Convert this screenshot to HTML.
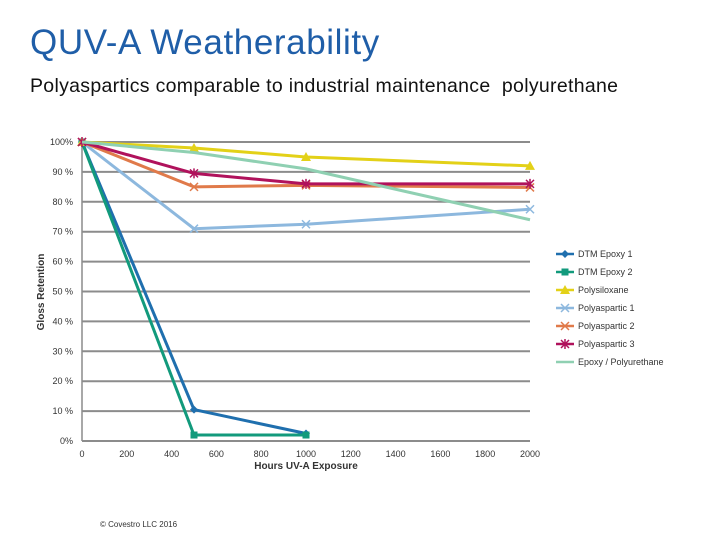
<!DOCTYPE html>
<html><head><meta charset="utf-8"><style>
body{margin:0;background:#fff;width:720px;height:540px;overflow:hidden;font-family:"Liberation Sans",sans-serif}
.t{position:absolute;white-space:nowrap}
</style></head><body>
<div class="t" style="left:30px;top:23px;font-size:35px;letter-spacing:0.6px;color:#1f5ea8">QUV-A Weatherability</div>
<div class="t" style="left:30px;top:75px;font-size:19.5px;letter-spacing:0.3px;color:#111">Polyaspartics comparable to industrial maintenance&nbsp; polyurethane</div>
<div class="t" style="left:100px;top:520px;font-size:8px;color:#333">© Covestro LLC 2016</div>
<svg id="c" width="720" height="540" style="position:absolute;left:0;top:0"></svg>
<script>
const xs=[0,500,1000,2000];
const names=["DTM Epoxy 1","DTM Epoxy 2","Polysiloxane","Polyaspartic 1","Polyaspartic 2","Polyaspartic 3","Epoxy / Polyurethane"];
const epoxy1=[100,10.5,2.5];
const epoxy2=[100,2,2];
const polysiloxane=[100,98,95,92];
const polyaspartic1=[100,71,72.5,77.5];
const polyaspartic2=[100,85,85.5,84.8];
const polyaspartic3=[100,89.5,86,86];
const epoxyPU=[100,96.5,91,74];
const yTicks=[0,10,20,30,40,50,60,70,80,90,100];
const xTicks=[0,200,400,600,800,1000,1200,1400,1600,1800,2000];
const series=[epoxy1,epoxy2,polysiloxane,polyaspartic1,polyaspartic2,polyaspartic3,epoxyPU];
const colors=["#1f6fae","#129a7c","#e3d118","#8db8de","#e07a4a","#b0125c","#8fd0b2"];
const marks=["dia","sq","tri","x","x","star","none"];
const widths=[3,3,3,3,3,3,3];
const X=v=>82+v*(448/2000), Y=v=>441-v*2.99;
const svg=document.getElementById('c'),NS="http://www.w3.org/2000/svg";
function mk(t,a,p){const e=document.createElementNS(NS,t);for(const k in a)e.setAttribute(k,a[k]);(p||svg).appendChild(e);return e;}
yTicks.forEach(v=>{
 const l=mk('line',{x1:82,x2:530,y1:Y(v),y2:Y(v),stroke:'#8c8c8c','stroke-width':2});
 
 
 const t=mk('text',{x:73,y:Y(v)+3,'text-anchor':'end','font-size':9,fill:'#333'});t.textContent=v+((v==100||v==0)?'%':' %');
 
 
});
const ax=mk('line',{x1:82,x2:82,y1:142,y2:441,stroke:'#8c8c8c','stroke-width':1.5});


xTicks.forEach(v=>{const t=mk('text',{x:X(v),y:457,'text-anchor':'middle','font-size':9,fill:'#333'});t.textContent=v;
 
 });
const xt=mk('text',{x:306,y:469,'text-anchor':'middle','font-size':10,'font-weight':'bold',fill:'#333'});xt.textContent="Hours UV-A Exposure";


const yt=mk('text',{x:44,y:292,'text-anchor':'middle','font-size':10,'font-weight':'bold',fill:'#333',transform:'rotate(-90 44 292)'});yt.textContent="Gloss Retention";


function marker(m,x,y,c,g){
 if(m=='dia')mk('path',{d:`M${x} ${y-4}L${x+4} ${y}L${x} ${y+4}L${x-4} ${y}Z`,fill:c},g);
 else if(m=='sq')mk('rect',{x:x-3.5,y:y-3.5,width:7,height:7,fill:c},g);
 else if(m=='tri')mk('path',{d:`M${x} ${y-5}L${x+5} ${y+4}L${x-5} ${y+4}Z`,fill:c},g);
 else if(m=='x'||m=='star'){mk('path',{d:`M${x-4} ${y-4}L${x+4} ${y+4}M${x+4} ${y-4}L${x-4} ${y+4}`+(m=='star'?`M${x} ${y-5}V${y+5}`:''),stroke:c,'stroke-width':1.5},g);}
}
series.forEach((s,i)=>{
 const g=mk('g',{});
 
 
 mk('polyline',{points:s.map((v,j)=>X(xs[j])+','+Y(v)).join(' '),fill:'none',stroke:colors[i],'stroke-width':widths[i]},g);
 s.forEach((v,j)=>marker(marks[i],X(xs[j]),Y(v),colors[i],g));
 const ly=254+i*18;
 const lg=mk('g',{});
 
 
 mk('line',{x1:556,x2:574,y1:ly,y2:ly,stroke:colors[i],'stroke-width':2.5},lg);
 marker(marks[i],565,ly,colors[i],lg);
 const t=mk('text',{x:578,y:ly+3,'font-size':9,fill:'#333'},lg);t.textContent=names[i];
});
</script>
</body></html>
